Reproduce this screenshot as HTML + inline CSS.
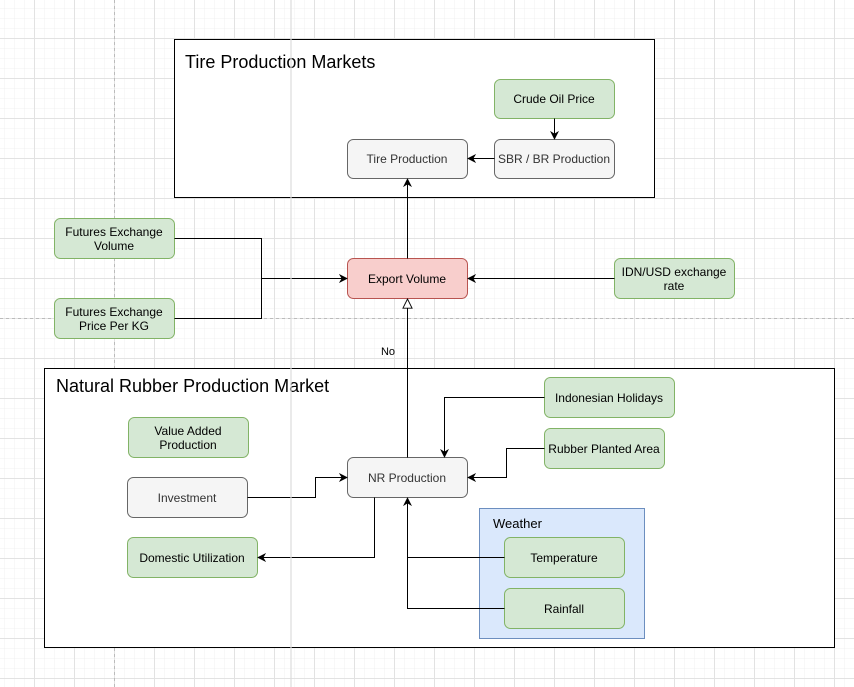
<!DOCTYPE html>
<html><head><meta charset="utf-8"><style>
html,body{margin:0;padding:0;background:#fff}
svg{display:block}
text{font-family:"Liberation Sans",Arial,sans-serif}
</style></head><body>
<svg width="854" height="687" viewBox="0 0 854 687" xmlns="http://www.w3.org/2000/svg">
<defs>
<pattern id="minor" x="4" y="8" width="10" height="10" patternUnits="userSpaceOnUse"><path d="M0 0H10M0 0V10" stroke="#f1f1f1" stroke-width="1" fill="none"/></pattern>
<pattern id="major" x="34" y="38" width="40" height="40" patternUnits="userSpaceOnUse"><path d="M0 0.5H40M0.5 0V40" stroke="#e2e2e2" stroke-width="1" fill="none"/></pattern>
<marker id="a" viewBox="0 0 10 10" refX="9" refY="5" markerWidth="9" markerHeight="9" orient="auto" markerUnits="userSpaceOnUse"><path d="M0 0L10 5L0 10L3 5Z" fill="#000"/></marker>
<marker id="h" viewBox="0 0 12 12" refX="11" refY="6" markerWidth="11" markerHeight="11" orient="auto" markerUnits="userSpaceOnUse"><path d="M1 1L11 6L1 11Z" fill="#fff" stroke="#000" stroke-width="1"/></marker>
</defs>
<rect width="854" height="687" fill="url(#minor)"/>
<rect width="854" height="687" fill="url(#major)"/>
<line x1="114.5" y1="0" x2="114.5" y2="687" stroke="#bbb" stroke-dasharray="3,3"/>
<line x1="0" y1="318.5" x2="854" y2="318.5" stroke="#bbb" stroke-dasharray="3,3"/>

<g fill="none" stroke="#000" stroke-width="1">
<rect x="174.5" y="39.5" width="480" height="158" fill="#fff"/>
<rect x="44.5" y="368.5" width="790" height="279" fill="#fff"/>
</g>
<text x="185" y="68" font-size="18">Tire Production Markets</text>
<text x="56" y="392" font-size="18">Natural Rubber Production Market</text>

<rect x="479.5" y="508.5" width="165" height="130" fill="#dae8fc" stroke="#6c8ebf"/>
<text x="493" y="528" font-size="13">Weather</text>

<g stroke-width="1">
<rect x="494.5" y="79.5" width="120" height="39" rx="6" fill="#d5e8d4" stroke="#82b366"/>
<rect x="494.5" y="139.5" width="120" height="39" rx="6" fill="#f5f5f5" stroke="#666"/>
<rect x="347.5" y="139.5" width="120" height="39" rx="6" fill="#f5f5f5" stroke="#666"/>
<rect x="347.5" y="258.5" width="120" height="40" rx="6" fill="#f8cecc" stroke="#b85450"/>
<rect x="54.5" y="218.5" width="120" height="40" rx="6" fill="#d5e8d4" stroke="#82b366"/>
<rect x="54.5" y="298.5" width="120" height="40" rx="6" fill="#d5e8d4" stroke="#82b366"/>
<rect x="614.5" y="258.5" width="120" height="40" rx="6" fill="#d5e8d4" stroke="#82b366"/>
<rect x="347.5" y="457.5" width="120" height="40" rx="6" fill="#f5f5f5" stroke="#666"/>
<rect x="128.5" y="417.5" width="120" height="40" rx="6" fill="#d5e8d4" stroke="#82b366"/>
<rect x="127.5" y="477.5" width="120" height="40" rx="6" fill="#f5f5f5" stroke="#666"/>
<rect x="127.5" y="537.5" width="130" height="40" rx="6" fill="#d5e8d4" stroke="#82b366"/>
<rect x="544.5" y="377.5" width="130" height="40" rx="6" fill="#d5e8d4" stroke="#82b366"/>
<rect x="544.5" y="428.5" width="120" height="40" rx="6" fill="#d5e8d4" stroke="#82b366"/>
<rect x="504.5" y="537.5" width="120" height="40" rx="6" fill="#d5e8d4" stroke="#82b366"/>
<rect x="504.5" y="588.5" width="120" height="40" rx="6" fill="#d5e8d4" stroke="#82b366"/>
</g>

<g font-size="12" text-anchor="middle" fill="#000">
<text x="554" y="103">Crude Oil Price</text>
<text x="554" y="163" fill="#333">SBR / BR Production</text>
<text x="407" y="163" fill="#333">Tire Production</text>
<text x="407" y="283">Export Volume</text>
<text x="114" y="236">Futures Exchange</text>
<text x="114" y="250">Volume</text>
<text x="114" y="316">Futures Exchange</text>
<text x="114" y="330">Price Per KG</text>
<text x="674" y="276">IDN/USD exchange</text>
<text x="674" y="290">rate</text>
<text x="407" y="482" fill="#333">NR Production</text>
<text x="188" y="435">Value Added</text>
<text x="188" y="449">Production</text>
<text x="187" y="502" fill="#333">Investment</text>
<text x="192" y="562">Domestic Utilization</text>
<text x="609" y="402">Indonesian Holidays</text>
<text x="604" y="453">Rubber Planted Area</text>
<text x="564" y="562">Temperature</text>
<text x="564" y="613">Rainfall</text>
<text x="388" y="355" font-size="11">No</text>
</g>

<g fill="none" stroke="#000" stroke-width="1">
<path d="M554.5 118.5V139" marker-end="url(#a)"/>
<path d="M494.5 158.5H468" marker-end="url(#a)"/>
<path d="M407.5 258.5V179" marker-end="url(#a)"/>
<path d="M174.5 238.5H261.5V278.5M174.5 318.5H261.5V278.5H347" marker-end="url(#a)"/>
<path d="M614.5 278.5H468" marker-end="url(#a)"/>
<path d="M407.5 457.5V299" marker-end="url(#h)"/>
<path d="M247.5 497.5H315.5V477.5H347" marker-end="url(#a)"/>
<path d="M374.5 497.5V557.5H258" marker-end="url(#a)"/>
<path d="M544.5 397.5H444.5V457" marker-end="url(#a)"/>
<path d="M544.5 448.5H506.5V477.5H468" marker-end="url(#a)"/>
<path d="M504.5 557.5H407.5"/>
<path d="M504.5 608.5H407.5V498" marker-end="url(#a)"/>
</g>
<line x1="291" y1="0" x2="291" y2="687" stroke="#ddd" stroke-width="1.5" opacity="0.8"/>
</svg>
</body></html>
